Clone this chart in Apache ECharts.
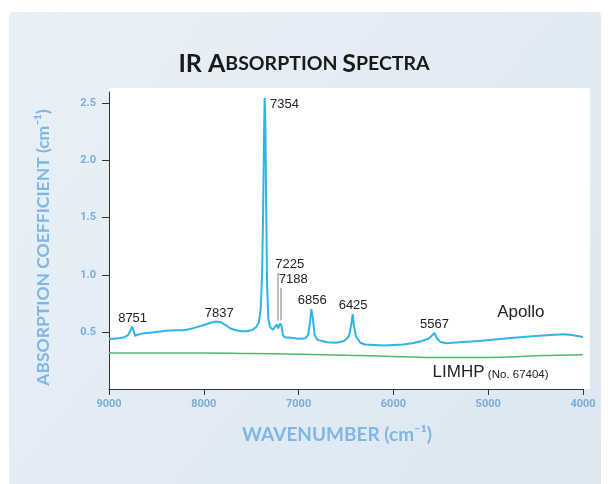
<!DOCTYPE html>
<html>
<head>
<meta charset="utf-8">
<script src="https://cdn.jsdelivr.net/npm/echarts@6/dist/echarts.min.js"></script>
<style>
  html, body { margin: 0; padding: 0; background: #ffffff; }
  #ir-chart { width: 608px; height: 484px; }
</style>
</head>
<body>
<div id="ir-chart"></div>
<script>
var irchart = echarts.init(document.getElementById('ir-chart'));

// 数据: 波数 (cm-1) 和吸收系数 (cm-1)
var apolloWave = [9000, 8950, 8900, 8850, 8800, 8775, 8755, 8740, 8725, 8700, 8650, 8600, 8500, 8400, 8300, 8200, 8100, 8000,
    7930, 7870, 7820, 7770, 7720, 7660, 7600, 7540, 7480, 7445, 7420, 7400, 7385, 7375, 7365, 7358, 7350, 7342, 7332, 7320,
    7300, 7270, 7250, 7230, 7215, 7195, 7180, 7165, 7140, 7100, 7000, 6930, 6900, 6880, 6865, 6850, 6830, 6800, 6700, 6600,
    6520, 6470, 6445, 6430, 6415, 6395, 6350, 6300, 6200, 6100, 6000, 5900, 5800, 5700, 5630, 5590, 5567, 5545, 5510, 5450,
    5300, 5100, 4900, 4700, 4500, 4300, 4200, 4100, 4000];
var apolloValue = [0.44, 0.44, 0.445, 0.45, 0.47, 0.51, 0.545, 0.51, 0.465, 0.475, 0.485, 0.49, 0.50, 0.51, 0.515, 0.515, 0.535, 0.56,
    0.58, 0.59, 0.585, 0.56, 0.53, 0.515, 0.505, 0.505, 0.52, 0.545, 0.58, 0.70, 1.0, 1.5, 2.2, 2.55, 2.3, 1.6, 0.9, 0.62,
    0.54, 0.52, 0.535, 0.565, 0.53, 0.575, 0.55, 0.47, 0.45, 0.45, 0.44, 0.445, 0.47, 0.58, 0.70, 0.62, 0.47, 0.43, 0.41, 0.405,
    0.42, 0.46, 0.56, 0.655, 0.55, 0.46, 0.405, 0.39, 0.385, 0.38, 0.385, 0.39, 0.40, 0.42, 0.44, 0.47, 0.49, 0.45, 0.415, 0.40,
    0.41, 0.42, 0.435, 0.45, 0.465, 0.475, 0.48, 0.47, 0.455];

var limhpWave = [9000, 8500, 8000, 7500, 7000, 6500, 6000, 5500, 5000, 4500, 4000];
var limhpValue = [0.315, 0.315, 0.315, 0.31, 0.305, 0.295, 0.285, 0.275, 0.275, 0.29, 0.30];

// 峰标注
var peakWave = [8751, 7837, 7354, 6856, 6425, 5567];
var peakValue = [0.545, 0.585, 2.55, 0.70, 0.655, 0.49];
// 7225 / 7188 带引线的标注
var leaderWave = [7225, 7188];
var leaderTop = [1.015, 0.885];
var leaderBottom = [0.60, 0.60];

var xTicks = [9000, 8000, 7000, 6000, 5000, 4000];
var yTicks = [0.5, 1.0, 1.5, 2.0, 2.5];

function pairs(xs, ys) {
    var out = [];
    for (var i = 0; i < xs.length; i++) out.push([xs[i], ys[i]]);
    return out;
}

var peakFont = { color: '#222', fontSize: 13, fontFamily: 'Liberation Sans' };

var peakPoints = [];
for (var i = 0; i < peakWave.length; i++) {
    var lab = { show: true, formatter: String(peakWave[i]), position: 'top', distance: 2 };
    if (peakWave[i] === 7354) {
        lab.position = 'right';
        lab.distance = 5;
        lab.offset = [0, 7];
    }
    peakPoints.push({ coord: [peakWave[i], peakValue[i]], label: lab });
}
var leaderLines = [];
for (var j = 0; j < leaderWave.length; j++) {
    leaderLines.push([{ coord: [leaderWave[j], leaderBottom[j]] }, { coord: [leaderWave[j], leaderTop[j]] }]);
    peakPoints.push({
        coord: [leaderWave[j], leaderTop[j]],
        label: { show: true, formatter: String(leaderWave[j]), position: [-2, -15], align: 'left', verticalAlign: 'top' }
    });
}

var lightBlue = '#7fb6e3';
var tickFont = { color: '#78acd9', fontSize: 11, fontWeight: 'bold', fontFamily: 'Roboto' };

option = {
    animation: false,
    title: {
        text: '{b|IR A}{s|BSORPTION }{b|S}{s|PECTRA}',
        left: 'center',
        top: 46,
        textStyle: {
            rich: {
                b: { fontSize: 25, fontWeight: 'bold', color: '#1a1a1a', fontFamily: 'Lato' },
                s: { fontSize: 19.5, fontWeight: 'bold', color: '#1a1a1a', fontFamily: 'Lato' }
            }
        }
    },
    graphic: [
        { // 背景
            type: 'rect', z: -20,
            shape: { x: 9, y: 12, width: 592, height: 480, r: 4 },
            style: {
                fill: new echarts.graphic.LinearGradient(0, 0, 1, 1, [
                    { offset: 0, color: '#e9f0f7' },
                    { offset: 1, color: '#dce7f2' }
                ])
            }
        },
        { // 白色绘图区
            type: 'rect', z: -10,
            shape: { x: 109, y: 88, width: 481, height: 301 },
            style: { fill: '#ffffff' }
        }
    ],
    grid: { left: 109, right: 25, top: 92, bottom: 95 },
    xAxis: {
        type: 'value',
        min: 4000, max: 9000, interval: 1000,
        inverse: true,
        name: 'WAVENUMBER (cm⁻¹)',
        nameLocation: 'middle',
        nameGap: 36,
        nameTextStyle: { color: lightBlue, fontSize: 19, fontWeight: 'bold', fontFamily: 'Lato', padding: [0, 18, 0, 0] },
        axisLine: { lineStyle: { color: '#333', width: 1 } },
        axisTick: { length: 6, lineStyle: { color: '#333' } },
        splitLine: { show: false },
        axisLabel: Object.assign({ margin: 10, formatter: function (v) { return String(v); } }, tickFont)
    },
    yAxis: {
        type: 'value',
        min: 0, max: 2.6, interval: 0.5,
        name: 'ABSORPTION COEFFICIENT (cm⁻¹)',
        nameLocation: 'middle',
        nameGap: 57,
        nameTextStyle: { color: lightBlue, fontSize: 17.5, fontWeight: 'bold', fontFamily: 'Lato', padding: [0, 14, 0, 0] },
        axisLine: { show: true, lineStyle: { color: '#333', width: 1 } },
        axisTick: { show: true, length: 7, lineStyle: { color: '#333' } },
        splitLine: { show: false },
        axisLabel: Object.assign({
            margin: 13,
            showMinLabel: false, showMaxLabel: false,
            formatter: function (v) { return yTicks.indexOf(v) >= 0 ? v.toFixed(1) : ''; }
        }, tickFont)
    },
    series: [
        {
            name: 'Apollo',
            type: 'line',
            data: pairs(apolloWave, apolloValue),
            symbol: 'none',
            lineStyle: { color: '#2fb4e6', width: 2 },
            z: 3,
            markPoint: {
                symbol: 'circle', symbolSize: 0, silent: true,
                label: peakFont,
                data: peakPoints.concat([{
                    coord: [4655, 0.675],
                    label: { show: true, formatter: 'Apollo', position: 'inside', fontSize: 17, color: '#222', fontFamily: 'Liberation Sans' }
                }])
            },
            markLine: {
                symbol: 'none', silent: true,
                label: { show: false },
                lineStyle: { color: '#a8a8a8', width: 1.5, type: 'solid' },
                data: leaderLines
            }
        },
        {
            name: 'LIMHP',
            type: 'line',
            data: pairs(limhpWave, limhpValue),
            symbol: 'none',
            smooth: true,
            lineStyle: { color: '#4cb86a', width: 1.5 },
            markPoint: {
                symbol: 'circle', symbolSize: 0, silent: true,
                data: [{
                    coord: [4975, 0.145],
                    label: {
                        show: true, position: 'inside',
                        formatter: '{a|LIMHP} {b|(No. 67404)}',
                        rich: {
                            a: { fontSize: 17, color: '#222', fontFamily: 'Liberation Sans' },
                            b: { fontSize: 11.5, color: '#222', fontFamily: 'Liberation Sans', padding: [4, 0, 0, 0] }
                        }
                    }
                }]
            }
        }
    ]
};

irchart.setOption(option);
</script>
</body>
</html>
